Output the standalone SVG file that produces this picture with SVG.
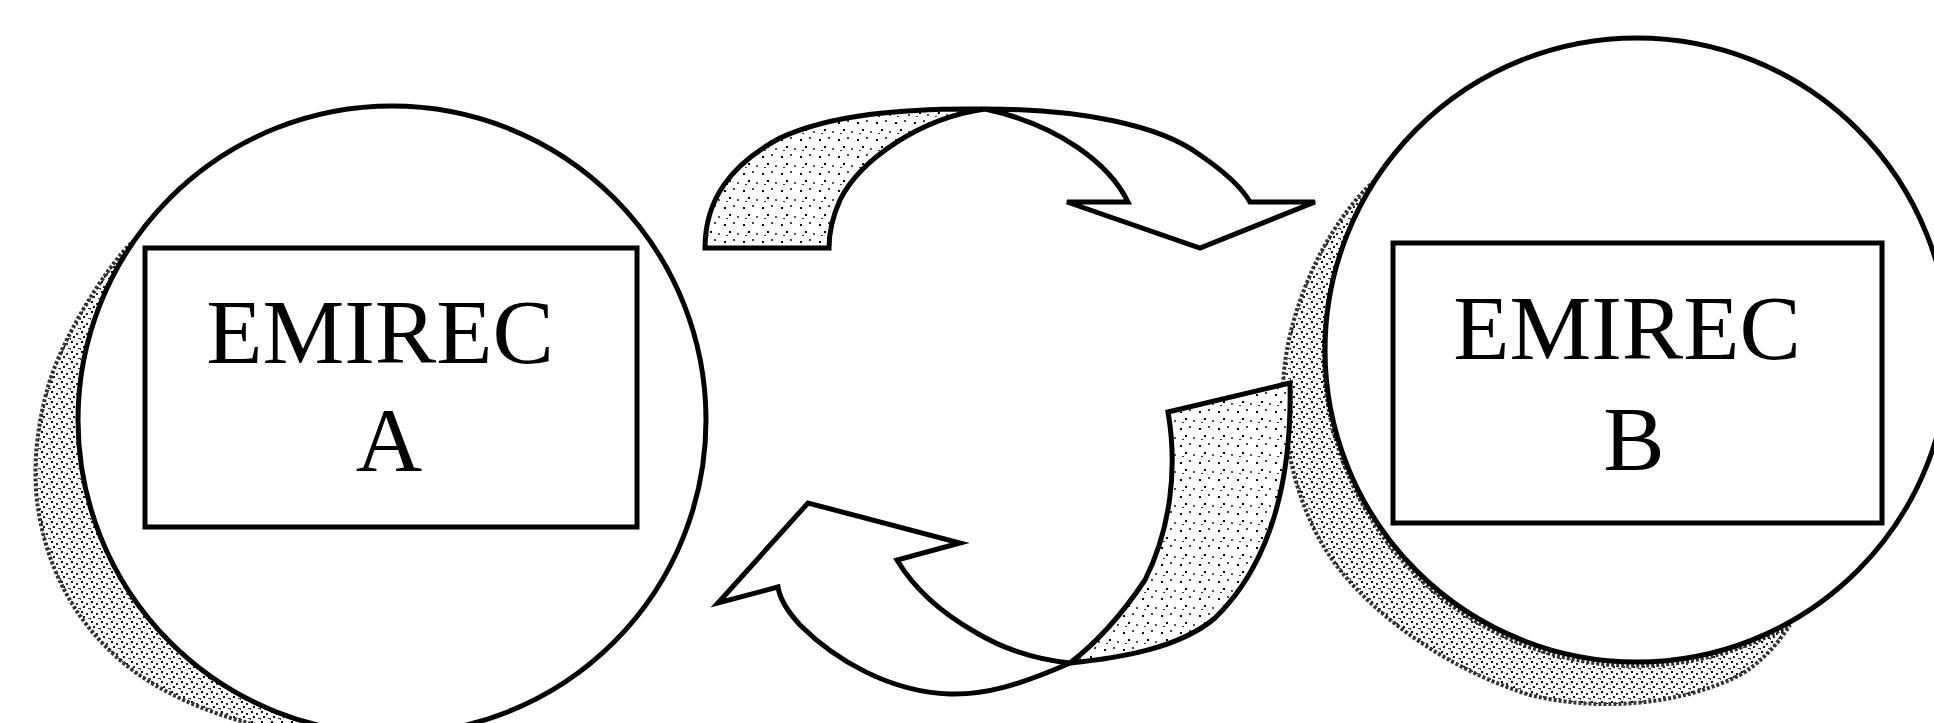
<svg xmlns="http://www.w3.org/2000/svg" width="1934" height="723" viewBox="0 0 1934 723">
<style>
.circ{fill:#fff;stroke:#000;stroke-width:5}
.box{fill:none;stroke:#000;stroke-width:5}
.lbl{font-family:"Liberation Serif","Times New Roman",serif;font-size:92px;fill:#000;text-anchor:middle}
.shadow{fill:url(#stipDense);stroke:#333;stroke-width:4;stroke-dasharray:3 2}
.back{fill:url(#stipLight);stroke:#000;stroke-width:5;stroke-linejoin:miter}
.front{fill:#fff;stroke:#000;stroke-width:5;stroke-linejoin:miter}
</style>
<defs>
<pattern id="stipLight" width="19" height="17" patternUnits="userSpaceOnUse">
<rect width="19" height="17" fill="#fff"/>
<rect x="2" y="3" width="2" height="2" fill="#000"/>
<rect x="11" y="1" width="2" height="2" fill="#444"/>
<rect x="7" y="10" width="2" height="2" fill="#000"/>
<rect x="15" y="12" width="2" height="2" fill="#555"/>
<rect x="4" y="14" width="2" height="1" fill="#333"/>
</pattern>
<pattern id="stipDense" width="10" height="10" patternUnits="userSpaceOnUse">
<rect width="10" height="10" fill="#fff"/>
<rect x="1" y="1" width="2" height="2" fill="#000"/>
<rect x="6" y="3" width="2" height="2" fill="#222"/>
<rect x="3" y="6" width="2" height="2" fill="#111"/>
<rect x="8" y="8" width="2" height="1" fill="#333"/>
<rect x="0" y="8" width="1" height="2" fill="#444"/>
</pattern>
</defs>
<rect width="1934" height="723" fill="#fff"/>

<g id="emirec-a">
<path class="shadow" d="M135,240 C120,250 70,320 50,380 C38,420 30,470 40,520 C52,580 80,625 120,660 C160,695 220,718 270,728 L313,724 A314,314 0 0 1 135,240 Z"/>
<circle class="circ" cx="392" cy="420" r="314"/>
<rect class="box" x="145" y="248" width="492" height="279"/>
<text class="lbl" x="380" y="363">EMIREC</text>
<text class="lbl" x="389" y="471">A</text>
</g>

<g id="emirec-b">
<path class="shadow" d="M1378,178 C1365,188 1345,210 1325,245 C1300,290 1285,340 1283,385 C1283,450 1300,520 1340,570 C1380,620 1450,670 1530,695 C1600,712 1680,705 1740,675 C1765,660 1780,640 1790,625 A312,312 0 0 1 1378,178 Z"/>
<circle class="circ" cx="1637" cy="350" r="312"/>
<rect class="box" x="1393" y="243" width="489" height="280"/>
<text class="lbl" x="1627" y="359">EMIREC</text>
<text class="lbl" x="1634" y="470">B</text>
</g>

<g id="connectors">
<path class="back" d="M705,248 C705,200 730,165 780,138 C830,115 900,108 985,109 C920,118 860,160 840,200 C832,218 829,235 829,248 Z"/>
<path class="front" d="M985,109 C1080,109 1160,125 1200,155 C1225,172 1242,188 1250,202 L1315,202 L1200,248 L1067,202 L1128,202 C1110,165 1060,125 985,109 Z"/>
<path class="back" d="M1168,412 L1290,383 C1292,470 1275,560 1215,618 C1180,648 1120,658 1070,663 C1100,640 1125,610 1145,580 C1170,530 1178,470 1168,412 Z"/>
<path class="front" d="M1070,663 C1020,685 985,695 950,694 C890,692 835,660 800,625 C788,612 780,600 778,587 L718,603 L808,503 L960,543 L897,560 C915,590 940,612 975,632 C1005,650 1040,660 1070,663 Z"/>
</g>
</svg>
